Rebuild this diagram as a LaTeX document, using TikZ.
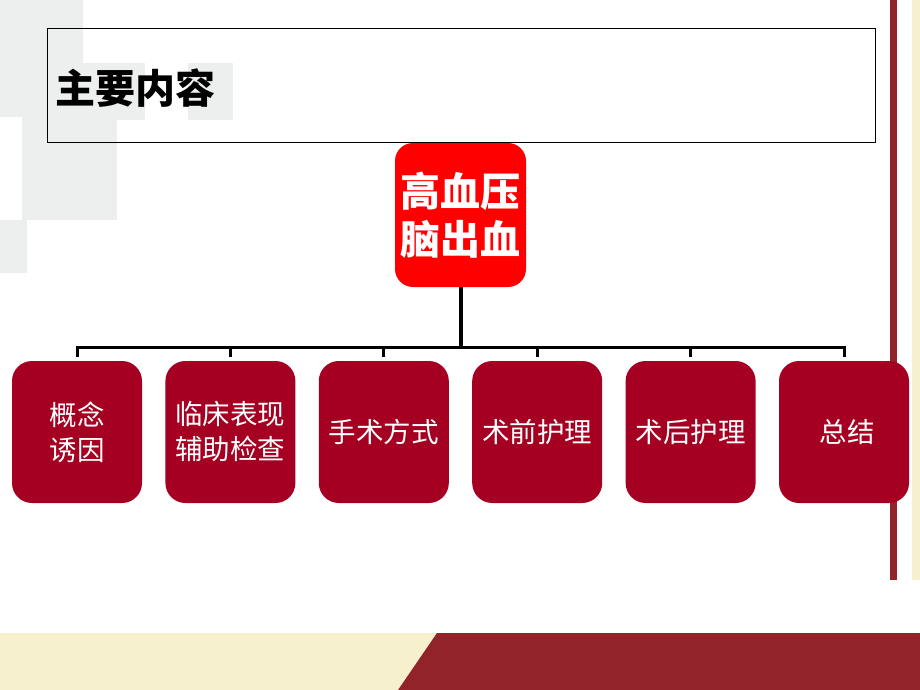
\documentclass[tikz,border=0pt]{standalone}
\usepackage{fontspec}
\setmainfont{Noto Sans CJK SC}
\usepackage{xcolor}
\usepackage{tikz}
\usetikzlibrary{positioning, calc}

\definecolor{bggrey}{HTML}{EDEFEE}
\definecolor{bgbeige}{HTML}{F7F0CF}
\definecolor{banddark}{HTML}{92232B}
\definecolor{topred}{HTML}{FF0000}
\definecolor{boxred}{HTML}{A50021}

\tikzset{
  topbox/.style={fill=topred, rounded corners=18pt, minimum width=131pt, minimum height=144pt,
    text=white, align=center, font=\fontsize{40}{48}\selectfont\bfseries, inner sep=0pt},
  subbox/.style={fill=boxred, rounded corners=20pt, minimum width=130pt, minimum height=142pt,
    text=white, align=center, font=\fontsize{27.5}{35}\selectfont, inner sep=0pt},
  titlebox/.style={draw=black, line width=0.8pt, minimum width=828pt, minimum height=114pt, inner sep=0pt},
  conn/.style={draw=black, line width=3pt}
}

\begin{document}
\begin{tikzpicture}[x=1pt, y=-1pt]
        \useasboundingbox (0,0) rectangle (920,690);

        % Background (faint squares, stripe, bottom band)
        \fill[bggrey] (0,0) rectangle (83,117);
        \fill[bggrey] (83,63) rectangle (145,120);
        \fill[bggrey] (188,63) rectangle (233,120);
        \fill[bggrey] (22,117) rectangle (117,220);
        \fill[bggrey] (0,220) rectangle (27,273);
        \fill[banddark] (890,0) rectangle (897,580);
        \fill[bgbeige] (912,0) rectangle (920,580);
        \fill[bgbeige] (0,633) rectangle (438,690);
        \fill[banddark] (437,633) -- (920,633) -- (920,690) -- (398,690) -- cycle;

        % Title
        \node[titlebox] (title) at (461,85) {};
        \node[anchor=west, font=\fontsize{40}{42}\selectfont\bfseries, inner sep=0pt]
          (titletext) at ([xshift=9pt, yshift=-3pt]title.west) {主要内容};

        % Root
        \node[topbox] (root) at (460.5,215) {高血压\\脑出血};

        % Children
        \foreach \i/\txt in {1/{概念\\诱因}, 2/{临床表现\\辅助检查}, 3/{手术方式},
                             4/{术前护理}, 5/{术后护理}, 6/{\hspace*{6pt}总结}}
          \node[subbox] (s\i) at ({77+153.4*(\i-1)},432) {\txt};

        % Connectors
        \coordinate (bus) at (460,347);
        \draw[conn, line width=4pt] (root.south) -- (root.south |- bus);
        \draw[conn, line cap=rect] (s1.north |- bus) -- (s6.north |- bus);
        \foreach \i in {1,...,6} \draw[conn, shorten >=4pt] (s\i.north |- bus) -- (s\i.north);
    \end{tikzpicture}
\end{document}
